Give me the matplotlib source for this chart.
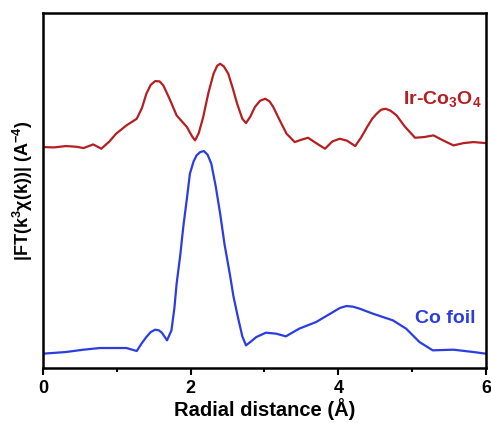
import matplotlib.pyplot as plt
from matplotlib.ticker import MultipleLocator

plt.rcParams['font.family'] = ['Liberation Sans', 'DejaVu Sans']
plt.rcParams['mathtext.fontset'] = 'custom'
plt.rcParams['mathtext.rm'] = 'Liberation Sans'
plt.rcParams['mathtext.bf'] = 'Liberation Sans:bold'
plt.rcParams['mathtext.it'] = 'Liberation Sans:italic'

# Ir-Co3O4 (offset curve)
r_ir = [0.0, 0.15, 0.31, 0.45, 0.55, 0.68, 0.79, 0.90, 0.99, 1.13, 1.27, 1.34, 1.40,
        1.46, 1.52, 1.58, 1.63, 1.72, 1.81, 1.95, 2.02, 2.06, 2.11, 2.17, 2.24,
        2.31, 2.36, 2.40, 2.45, 2.51, 2.57, 2.63, 2.70, 2.75, 2.81, 2.87, 2.94,
        3.01, 3.07, 3.12, 3.21, 3.30, 3.41, 3.50, 3.59, 3.70, 3.82, 3.92, 4.02,
        4.12, 4.23, 4.31, 4.39, 4.46, 4.52, 4.58, 4.64, 4.71, 4.79, 4.90, 5.04,
        5.16, 5.29, 5.42, 5.56, 5.70, 5.83, 6.0]
ft_ir = [6.63, 6.62, 6.66, 6.64, 6.60, 6.71, 6.58, 6.80, 7.03, 7.28, 7.48, 7.80, 8.23,
         8.50, 8.61, 8.60, 8.48, 8.05, 7.58, 7.23, 6.95, 6.83, 7.05, 7.53, 8.25,
         8.83, 9.07, 9.13, 9.05, 8.83, 8.40, 7.93, 7.48, 7.35, 7.55, 7.83, 8.02,
         8.08, 8.00, 7.83, 7.42, 7.03, 6.78, 6.85, 6.91, 6.75, 6.58, 6.80, 6.88,
         6.82, 6.66, 6.92, 7.23, 7.48, 7.63, 7.75, 7.78, 7.72, 7.58, 7.25, 6.91,
         6.93, 6.98, 6.83, 6.68, 6.75, 6.78, 6.75]

# Co foil
r_co = [0.0, 0.31, 0.55, 0.77, 1.13, 1.27, 1.34, 1.40, 1.46, 1.52, 1.57, 1.61, 1.68,
        1.74, 1.78, 1.81, 1.86, 1.90, 1.95, 1.99, 2.04, 2.08, 2.13, 2.18, 2.23,
        2.28, 2.34, 2.40, 2.46, 2.53, 2.58, 2.64, 2.70, 2.75, 2.82, 2.89, 3.02,
        3.16, 3.29, 3.47, 3.70, 3.93, 4.02, 4.11, 4.20, 4.29, 4.47, 4.74, 4.92,
        5.10, 5.28, 5.56, 5.83, 6.0]
ft_co = [0.43, 0.48, 0.55, 0.60, 0.60, 0.51, 0.75, 0.93, 1.08, 1.15, 1.13, 1.06, 0.83,
         1.13, 1.80, 2.53, 3.40, 4.23, 5.10, 5.83, 6.20, 6.38, 6.48, 6.51, 6.40,
         6.13, 5.45, 4.63, 3.70, 2.83, 2.15, 1.53, 0.95, 0.68, 0.80, 0.93, 1.06,
         1.03, 0.95, 1.18, 1.38, 1.68, 1.80, 1.86, 1.84, 1.78, 1.63, 1.43, 1.18,
         0.78, 0.53, 0.55, 0.48, 0.43]

red = '#b51f22'
blue = '#2b3de0'

fig = plt.figure(figsize=(4.91, 4.23), dpi=100)
ax = fig.add_axes([0.0876, 0.130, 0.902, 0.839])

ax.plot(r_ir, ft_ir, color=red, lw=1.6)
ax.plot(r_co, ft_co, color=blue, lw=1.6)

ax.text(5.94, 8.08, r'Ir-Co$_\mathbf{3}$O$_\mathbf{4}$', color=red, fontsize=14,
        fontweight='bold', ha='right', va='center')
ax.text(5.86, 1.48, 'Co foil', color=blue, fontsize=14, fontweight='bold',
        ha='right', va='center')

ax.set_xlim(0, 6)
ax.set_ylim(0, 10.65)
ax.xaxis.set_major_locator(MultipleLocator(2))
ax.xaxis.set_minor_locator(MultipleLocator(1))
ax.tick_params(axis='x', which='major', direction='out', length=5, width=1.5,
               labelsize=13)
ax.tick_params(axis='x', which='minor', direction='out', length=3, width=1.5)
for lbl in ax.get_xticklabels():
    lbl.set_fontweight('bold')
ax.set_yticks([])
for s in ax.spines.values():
    s.set_linewidth(1.8)

ax.set_xlabel('Radial distance (Å)', fontsize=14.5, fontweight='bold', labelpad=1)
ax.set_ylabel(r'|FT(k$^\mathbf{3}$χ(k))| (A$^\mathbf{-4}$)', fontsize=13,
              fontweight='bold', labelpad=6)

fig.savefig('out.png', dpi=100)
